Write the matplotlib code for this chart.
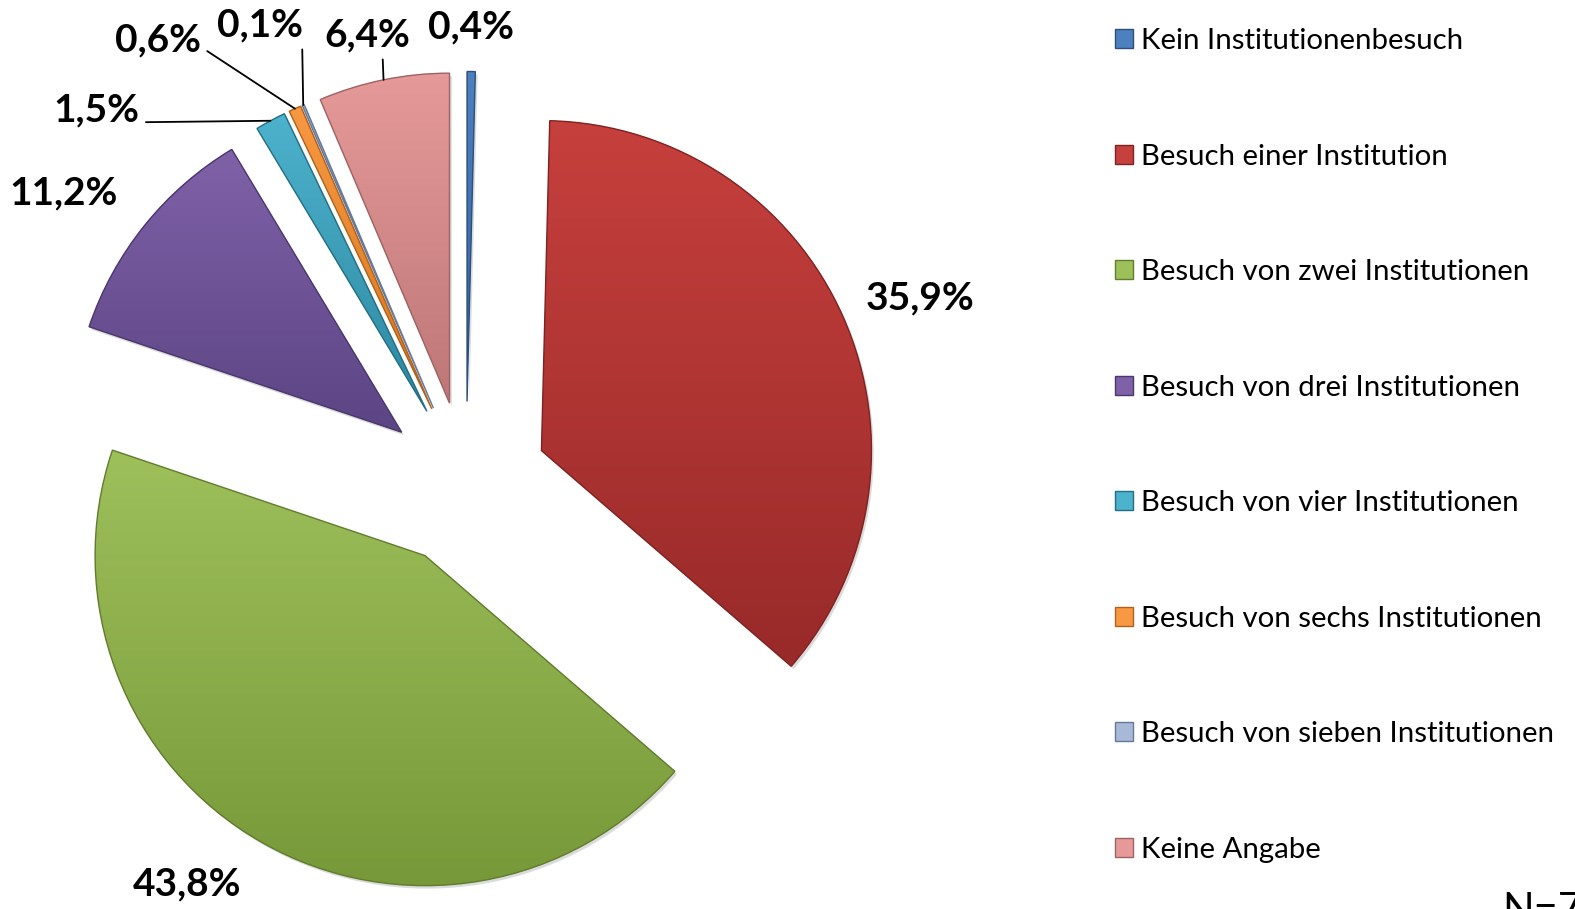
import numpy as np
import matplotlib
matplotlib.use("Agg")
import matplotlib.pyplot as plt
from matplotlib.colors import to_rgb
from matplotlib.patches import PathPatch
from matplotlib.path import Path

# ---- data ----
categories = ["Kein Institutionenbesuch", "Besuch einer Institution",
              "Besuch von zwei Institutionen", "Besuch von drei Institutionen",
              "Besuch von vier Institutionen", "Besuch von sechs Institutionen",
              "Besuch von sieben Institutionen", "Keine Angabe"]
values = [0.4, 35.9, 43.8, 11.2, 1.5, 0.6, 0.1, 6.4]
labels = ["0,4%", "35,9%", "43,8%", "11,2%", "1,5%", "0,6%", "0,1%", "6,4%"]

# ---- style ----
top_colors = ["#4C80BE", "#C6403D", "#9EC05B", "#7F61A8", "#4DB2CD", "#F89842", "#A7B9D6", "#E59A99"]
bot_colors = ["#36629A", "#982A29", "#779838", "#5C4584", "#2D88A1", "#D5761E", "#7D91B3", "#BE7777"]
edge_colors = ["#2C4F7C", "#7E2322", "#617C2D", "#4A376B", "#236E83", "#B0621A", "#66789A", "#9E6262"]
explode = [0.25] * len(values)

W, H = 1575, 909
CX, CY, R = 466, 484, 330  # pixel centre and radius of pie


def px(x, y):
    return ((x - CX) / R, (CY - y) / R)


plt.rcParams['font.family'] = ['Lato', 'DejaVu Sans']
fig = plt.figure(figsize=(W / 100, H / 100), dpi=100)
ax = fig.add_axes([0, 0, 1, 1])

wedges, _ = ax.pie(values, explode=explode, startangle=90, counterclock=False,
                   radius=1.0, center=(0, 0), normalize=True,
                   wedgeprops=dict(linewidth=0))

for w, tc, bc, ec in zip(wedges, top_colors, bot_colors, edge_colors):
    w.set_facecolor(bc)
    path = w.get_path()
    # soft shadow
    sp = Path(path.vertices + np.array([0.007, -0.009]), path.codes)
    ax.add_patch(PathPatch(sp, facecolor='#808080', edgecolor='none', alpha=0.28,
                           zorder=w.get_zorder() - 0.1))
    verts = path.vertices
    x0, y0 = verts.min(axis=0)
    x1, y1 = verts.max(axis=0)
    t = np.linspace(0, 1, 64)[:, None, None]
    grad = (1 - t) * np.array(to_rgb(tc))[None, None, :] + t * np.array(to_rgb(bc))[None, None, :]
    im = ax.imshow(grad, extent=[x0, x1, y0, y1], origin='upper', aspect='auto',
                   zorder=w.get_zorder() + 0.01, interpolation='bilinear')
    im.set_clip_path(w)
    ax.add_patch(PathPatch(path, fill=False, edgecolor=ec, lw=1.0,
                           zorder=w.get_zorder() + 0.02))


def outer_point(i):
    w = wedges[i]
    th = np.deg2rad(0.5 * (w.theta1 + w.theta2))
    cx, cy = w.center
    return (cx + w.r * np.cos(th), cy + w.r * np.sin(th))


lab_pos = {0: (471, 27), 1: (920, 298), 2: (187, 884), 3: (64, 193),
           4: (96, 110), 5: (158, 40), 6: (260, 25), 7: (367, 35)}
leader = {4: (1.0, 0.15), 5: (1.0, 0.3), 6: (0.99, 0.0), 7: (0.68, 0.0)}

for i, lab in enumerate(labels):
    pos = px(*lab_pos[i])
    if i in leader:
        ax.annotate(lab, xy=outer_point(i), xytext=pos, ha='center', va='center',
                    fontsize=28, fontweight='bold', color='black',
                    arrowprops=dict(arrowstyle='-', color='black', lw=1.3,
                                    relpos=leader[i], shrinkA=3, shrinkB=0))
    else:
        ax.text(*pos, lab, ha='center', va='center', fontsize=28,
                fontweight='bold', color='black')

ax.set_xlim(-CX / R, (W - CX) / R)
ax.set_ylim((CY - H) / R, CY / R)
ax.set_aspect('auto')
ax.axis('off')

leg = fig.legend(wedges, categories, loc='upper left',
                 bbox_to_anchor=(1115 / W, 1 - 28 / H), frameon=False,
                 fontsize=21.2, handlelength=0.62, handleheight=0.62,
                 handletextpad=0.27, labelspacing=3.04, borderpad=0, borderaxespad=0)
for h, tc, ec in zip(leg.legend_handles, top_colors, edge_colors):
    h.set_facecolor(tc)
    h.set_edgecolor(ec)
    h.set_linewidth(1.0)

fig.text(1502 / W, 1 - 892 / H, "N=7", fontsize=30, va='top', ha='left')

fig.savefig("out.png", dpi=100)
